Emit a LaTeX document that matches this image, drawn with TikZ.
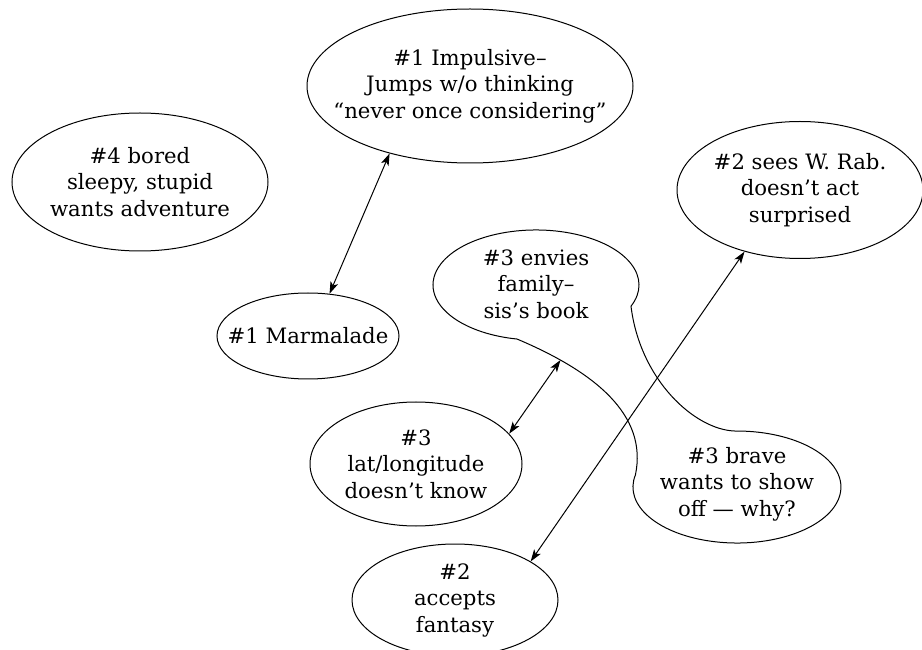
\documentclass[tikz,border=0pt]{standalone}
\usepackage{fontspec}
\setmainfont{DejaVu Serif}
\usetikzlibrary{shapes.geometric,arrows.meta}
\begin{document}
\begin{tikzpicture}[x=1pt,y=1pt,
  ell/.style={ellipse,draw,line width=1pt,inner xsep=-40pt,inner ysep=-10pt,align=center,font=\fontsize{21.2}{26.5}\selectfont},
  txt/.style={inner sep=0pt,align=center,font=\fontsize{21.2}{26.5}\selectfont},
  conn/.style={line width=1pt,{Stealth[length=12pt,width=8pt,inset=3pt]}-{Stealth[length=12pt,width=8pt,inset=3pt]}},
  blob/.style={line width=1pt}]
\useasboundingbox (0,0) rectangle (922,649);
\clip (0,0) rectangle (922,649);
\node[ell,minimum width=326pt,minimum height=154pt] (imp) at (470,563) {\#1 Impulsive–\\Jumps w/o thinking\\“never once considering”};
\node[ell,minimum width=256pt,minimum height=138pt] (bored) at (140,467) {\#4 bored\\sleepy, stupid\\wants adventure};
\node[ell,minimum width=246pt,minimum height=137pt] (sees) at (800,459) {\#2 sees W. Rab.\\doesn’t act\\surprised};
\node[ell,minimum width=182pt,minimum height=86pt] (marm) at (308,313) {\#1 Marmalade};
\node[ell,minimum width=212pt,minimum height=124pt] (lat) at (416,185) {\#3\\lat/longitude\\doesn’t know};
\node[ell,minimum width=206pt,minimum height=112pt] (acc) at (455,49) {\#2\\accepts\\fantasy};
% combined blob
\draw[blob] (631.0,342.8) arc[start angle=-22.7,end angle=259.4,x radius=103pt,y radius=55pt]
  .. controls (595,277) and (648,234) .. coordinate[pos=0.2] (envA) (635.4,174)
  arc[start angle=167.6,end angle=451,x radius=104pt,y radius=56pt]
  .. controls (695,219) and (640,269) .. (631.0,342.8) -- cycle;
\node[txt] (env) at (536,365) {\#3 envies\\family–\\sis’s book};
\node[txt] (brave) at (737,165) {\#3 brave\\wants to show\\off — why?};
\draw[conn] (imp.220) -- (marm.63);
\draw[conn] (envA) -- (lat.18);
\draw[conn] (sees.228) -- (acc.27);
\end{tikzpicture}
\end{document}
